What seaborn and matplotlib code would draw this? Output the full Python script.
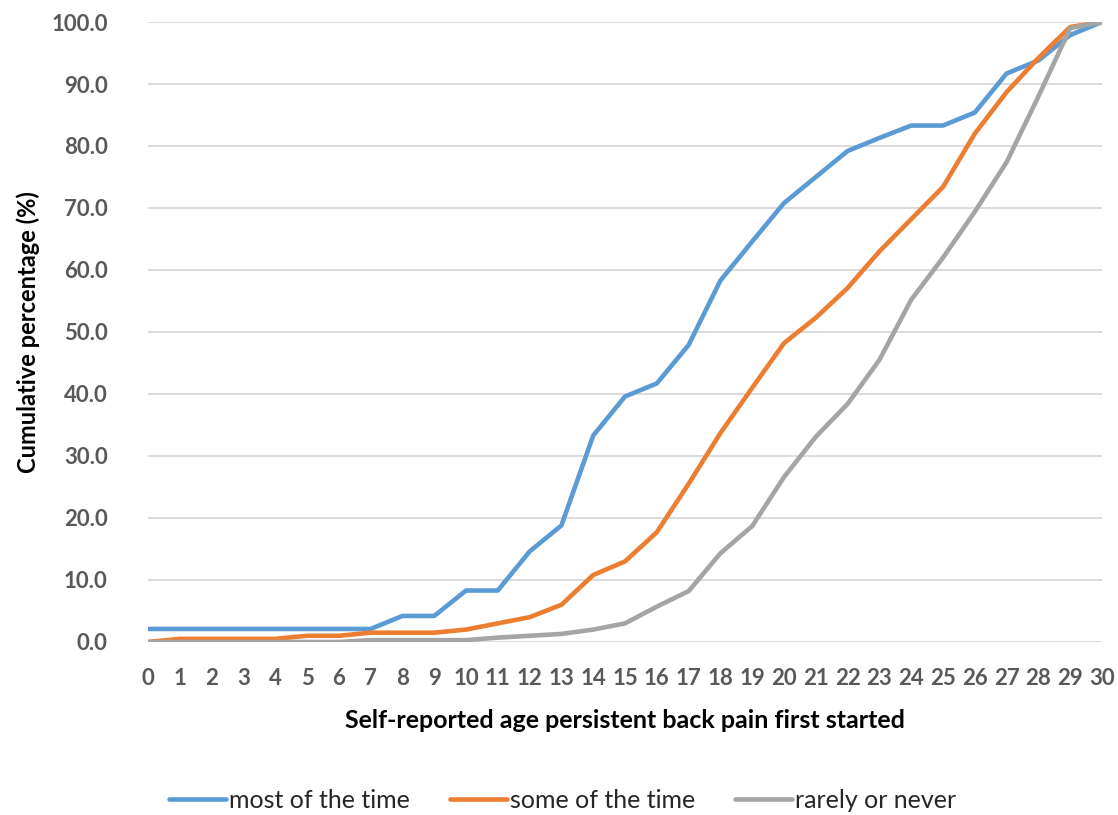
import numpy as np
import pandas as pd
import matplotlib
matplotlib.use("Agg")
import matplotlib.pyplot as plt
import seaborn as sns
from matplotlib.ticker import FormatStrFormatter

ages = list(range(0, 31))

most_of_the_time = [2.1, 2.1, 2.1, 2.1, 2.1, 2.1, 2.1, 2.1, 4.2, 4.2,
                    8.3, 8.3, 14.6, 18.8, 33.3, 39.6, 41.7, 47.9, 58.3, 64.6,
                    70.8, 75.0, 79.2, 81.3, 83.3, 83.3, 85.4, 91.7, 93.8, 97.9, 100.0]
some_of_the_time = [0.0, 0.5, 0.5, 0.5, 0.5, 1.0, 1.0, 1.5, 1.5, 1.5,
                    2.0, 3.0, 4.0, 6.0, 10.8, 13.0, 17.7, 25.5, 33.7, 41.0,
                    48.2, 52.3, 57.1, 63.0, 68.2, 73.4, 82.0, 88.7, 94.2, 99.2, 100.0]
rarely_or_never = [0.0, 0.0, 0.0, 0.0, 0.0, 0.0, 0.0, 0.3, 0.3, 0.3,
                   0.3, 0.7, 1.0, 1.3, 2.0, 3.0, 5.7, 8.2, 14.3, 18.7,
                   26.6, 33.1, 38.4, 45.5, 55.2, 62.0, 69.4, 77.4, 88.0, 99.0, 100.0]

series_names = ["most of the time", "some of the time", "rarely or never"]
series_colors = ["#5B9BD5", "#ED7D31", "#A5A5A5"]

df = pd.concat([
    pd.DataFrame({"age": ages, "pct": vals, "group": name})
    for name, vals in zip(series_names, [most_of_the_time, some_of_the_time, rarely_or_never])
])

sns.set_theme(style="white")
plt.rcParams["font.family"] = ["Lato", "DejaVu Sans"]

fig = plt.figure(figsize=(11.18, 8.15), dpi=100)
ax = fig.add_axes([0.1324, 0.2123, 0.8533, 0.7607])

sns.lineplot(data=df, x="age", y="pct", hue="group", hue_order=series_names,
             palette=series_colors, linewidth=3.3, ax=ax, legend=True)

ax.set_xlim(0, 30)
ax.set_ylim(0, 100)
ax.set_xticks(ages)
ax.set_yticks(np.arange(0, 101, 10))
ax.yaxis.set_major_formatter(FormatStrFormatter("%.1f"))
ax.grid(axis="y", color="#D9D9D9", linewidth=1.3)
ax.set_axisbelow(True)
for s in ax.spines.values():
    s.set_visible(False)

ax.tick_params(axis="both", length=0, labelcolor="#595959", labelsize=16)
ax.tick_params(axis="x", pad=19)
ax.tick_params(axis="y", pad=29)
for lbl in ax.get_xticklabels() + ax.get_yticklabels():
    lbl.set_fontweight("bold")

ax.set_xlabel("Self-reported age persistent back pain first started",
              fontsize=18, fontweight="bold", color="black", labelpad=14)
ax.set_ylabel("Cumulative percentage (%)", fontsize=17, fontweight="bold",
              color="black", labelpad=8)

handles, labels = ax.get_legend_handles_labels()
ax.get_legend().remove()
fig.legend(handles, labels, loc="center", bbox_to_anchor=(0.503, 0.018),
           bbox_transform=fig.transFigure, ncol=3, frameon=False,
           fontsize=18, handlelength=2.3, handletextpad=0.1, columnspacing=1.6)

fig.savefig("out.png", dpi=100)
